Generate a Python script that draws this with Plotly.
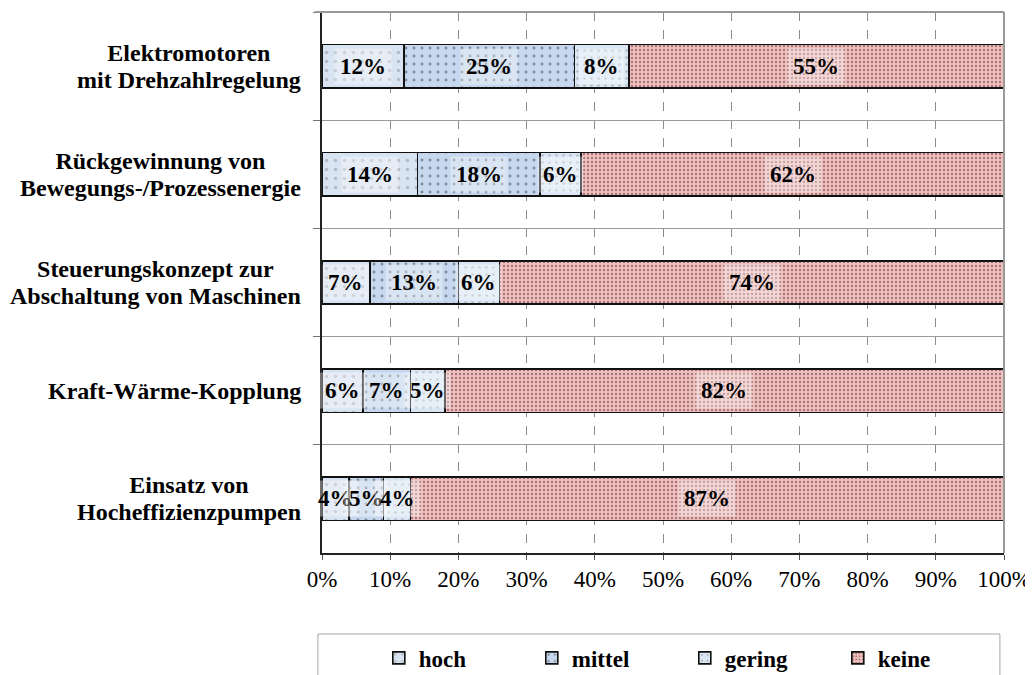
import plotly.graph_objects as go

categories = [
    "Elektromotoren<br>mit Drehzahlregelung",
    "Rückgewinnung von<br>Bewegungs-/Prozessenergie",
    "Steuerungskonzept zur<br>Abschaltung von Maschinen",
    "Kraft-Wärme-Kopplung",
    "Einsatz von<br>Hocheffizienzpumpen",
]
series_names = ["hoch", "mittel", "gering", "keine"]
hoch = [12, 14, 7, 6, 4]
mittel = [25, 18, 13, 7, 5]
gering = [8, 6, 6, 5, 4]
keine = [55, 62, 74, 82, 87]
x_ticks = [0, 10, 20, 30, 40, 50, 60, 70, 80, 90, 100]

values = [hoch, mittel, gering, keine]
patterns = [
    dict(shape=".", bgcolor="#d9e4f3", fgcolor="#8f8f8f", size=9, solidity=0.12),
    dict(shape=".", bgcolor="#c6d8ef", fgcolor="#3a3a3a", size=8, solidity=0.1),
    dict(shape=".", bgcolor="#dae6f4", fgcolor="#8f8f8f", size=7, solidity=0.12),
    dict(shape=".", bgcolor="#f2bfbf", fgcolor="#4d2b2b", size=4, solidity=0.28),
]

FONT = "Liberation Serif, Times New Roman, serif"

fig = go.Figure()
for name, vals, pat in zip(series_names, values, patterns):
    fig.add_trace(go.Bar(
        y=categories, x=vals, name=name, orientation="h",
        marker=dict(color=pat["bgcolor"], pattern=pat,
                    line=dict(color="#111111", width=1.6)),
        hoverinfo="skip",
    ))

annotations = []
for ci, cat in enumerate(categories):
    cum = 0
    for si, vals in enumerate(values):
        v = vals[ci]
        annotations.append(dict(
            x=cum + v / 2, y=cat, xref="x", yref="y",
            text=f"{v}%", showarrow=False,
            font=dict(family=FONT, size=23, color="black", weight="bold"),
            bgcolor="rgba(255,255,255,0.35)", borderpad=5,
        ))
        cum += v
    label = "<br>".join(f"<span style='font-size:24px'>{ln}</span>" for ln in cat.split("<br>"))
    annotations.append(dict(
        x=-0.028, y=cat, xref="paper", yref="y", xanchor="right",
        text=label, showarrow=False, align="center",
        font=dict(family=FONT, size=20.8, color="black", weight="bold"),
    ))

fig.update_layout(
    width=1025, height=667,
    margin=dict(l=314, r=29, t=4, b=122, autoexpand=False),
    paper_bgcolor="white", plot_bgcolor="white",
    barmode="stack", bargap=0.6,
    showlegend=True,
    legend=dict(orientation="h", x=0.532, xanchor="center", y=-0.194, yanchor="middle",
                font=dict(family=FONT, size=23, color="black", weight="bold"),
                entrywidth=108, traceorder="normal", bgcolor="rgba(0,0,0,0)"),
    annotations=annotations,
    shapes=[
        dict(type="line", xref="paper", yref="paper", x0=-0.011, x1=1, y0=1, y1=1,
             line=dict(color="#999999", width=2)),
        dict(type="line", xref="paper", yref="paper", x0=1, x1=1, y0=0, y1=1,
             line=dict(color="#999999", width=2)),
        dict(type="rect", xref="paper", yref="paper", x0=-0.006, x1=0.994, y0=-0.1497, y1=-0.26,
             line=dict(color="#a6a6a6", width=1), fillcolor="rgba(0,0,0,0)"),
    ],
)
fig.update_xaxes(
    range=[0, 100], tickvals=x_ticks, ticktext=[f"{t}%" for t in x_ticks],
    showgrid=True, gridcolor="#8c8c8c", griddash="dash", gridwidth=1,
    showline=True, linecolor="#222222", linewidth=1.5,
    ticks="outside", ticklen=5, tickcolor="#555555",
    tickfont=dict(family=FONT, size=23, color="black"),
    zeroline=False, fixedrange=True, automargin=False,
)
fig.update_yaxes(
    type="category", categoryorder="array", categoryarray=categories,
    autorange="reversed", tickson="boundaries",
    showgrid=True, gridcolor="#9a9a9a", gridwidth=1,
    showline=True, linecolor="#222222", linewidth=1.5,
    ticks="outside", ticklen=7, tickcolor="#777777",
    showticklabels=False, fixedrange=True, automargin=False,
)

fig.write_html("out.html")
